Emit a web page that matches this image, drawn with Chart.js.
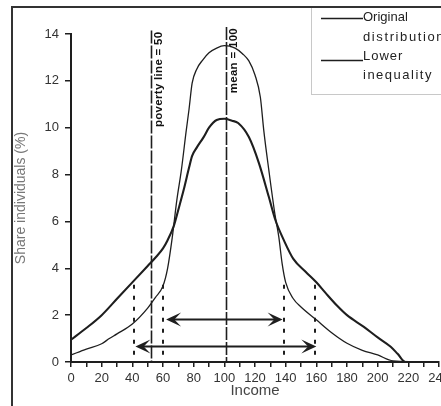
<!DOCTYPE html>
<html>
<head>
<meta charset="utf-8">
<script src="https://cdn.jsdelivr.net/npm/chart.js@4.4.0/dist/chart.umd.min.js"></script>
<style>
  body { margin: 0; background: #fff; }
  #wrap { width: 441px; height: 406px; overflow: hidden; position: relative; }
</style>
</head>
<body>
<div id="wrap"><canvas id="incomeChart" width="460" height="406"></canvas></div>
<script>
// values
const incomeOriginal = [0, 10, 20, 25, 30, 40, 50, 55, 60, 63, 66, 69, 72, 75, 77, 79, 82, 86, 90, 95, 100, 107, 112, 116, 120, 123.5, 125.7, 129, 133, 135.5, 137.7, 140, 145, 150, 160, 170, 180, 190, 200, 210, 240];
const shareOriginal = [0.3, 0.55, 0.78, 1.0, 1.2, 1.62, 2.3, 2.75, 3.25, 4.0, 5.3, 6.9, 8.2, 9.8, 10.8, 11.9, 12.5, 12.9, 13.2, 13.4, 13.5, 13.4, 13.15, 12.85, 12.25, 11.3, 9.9, 8.2, 6.3, 5.35, 4.2, 3.4, 2.7, 2.35, 1.8, 1.25, 0.8, 0.5, 0.3, 0.05, 0];

const incomeLower = [0, 10, 20, 30, 40, 50, 55, 60, 63, 67, 70, 73.5, 77, 79, 82, 86.5, 90, 95, 100, 105, 109, 116, 122.5, 129, 133.3, 138.8, 145, 153, 160, 166, 173.6, 180, 191, 200, 208.5, 213, 218, 240];
const shareLower = [0.95, 1.45, 2.0, 2.7, 3.4, 4.1, 4.45, 4.85, 5.2, 5.8, 6.5, 7.35, 8.3, 8.8, 9.15, 9.6, 10.0, 10.33, 10.38, 10.3, 10.2, 9.6, 8.5, 7.05, 6.06, 5.2, 4.4, 3.85, 3.4, 2.95, 2.4, 2.0, 1.5, 1.05, 0.65, 0.35, 0, 0];

const seriesNames = [['Original', 'distribution'], ['Lower', 'inequality']];

const refLineX = [52, 101];
const refLineTop = [14.15, 14.3];
const refLineLabels = ['poverty line = 50', 'mean = 100'];

const dottedX = [41, 60, 139, 159];
const dottedTop = 3.3;

const arrowFrom = [62, 42];
const arrowTo = [138, 160];
const arrowY = [1.83, 0.68];

const FONT = "'Liberation Sans', Arial, sans-serif";
const INK = '#1e1e1e';

function toPoints(xs, ys) {
  return xs.map((x, i) => ({ x: x, y: ys[i] }));
}

function arrowHead(ctx, tipX, y, dir) {
  // dir = 1 points right, -1 points left
  const len = 15;
  const half = 7;
  ctx.beginPath();
  ctx.moveTo(tipX, y);
  ctx.lineTo(tipX - dir * len, y - half);
  ctx.lineTo(tipX - dir * len * 0.55, y);
  ctx.lineTo(tipX - dir * len, y + half);
  ctx.closePath();
  ctx.fill();
}

const decorations = {
  id: 'decorations',
  afterDraw(chart) {
    const { ctx } = chart;
    const xs = chart.scales.x;
    const ys = chart.scales.y;
    ctx.save();

    // reference lines (poverty line, mean)
    ctx.strokeStyle = INK;
    ctx.lineWidth = 1.6;
    ctx.setLineDash([13, 2]);
    refLineX.forEach((v, i) => {
      const px = Math.round(xs.getPixelForValue(v)) + 0.5;
      ctx.beginPath();
      ctx.moveTo(px, ys.getPixelForValue(refLineTop[i]));
      ctx.lineTo(px, ys.getPixelForValue(0));
      ctx.stroke();
    });

    // rotated labels next to the reference lines
    ctx.setLineDash([]);
    ctx.fillStyle = '#111';
    ctx.font = 'bold 11.5px ' + FONT;
    ctx.letterSpacing = '0.3px';
    ctx.textAlign = 'right';
    ctx.textBaseline = 'middle';
    refLineLabels.forEach((txt, i) => {
      const px = xs.getPixelForValue(refLineX[i]) + 8;
      const py = ys.getPixelForValue(refLineTop[i]) + 1;
      ctx.save();
      ctx.translate(px, py);
      ctx.rotate(-Math.PI / 2);
      ctx.fillText(txt, 0, 0);
      ctx.restore();
    });
    ctx.letterSpacing = '0px';

    // dotted verticals
    ctx.lineWidth = 2;
    ctx.setLineDash([4, 7]);
    dottedX.forEach((v) => {
      const px = Math.round(xs.getPixelForValue(v));
      ctx.beginPath();
      ctx.moveTo(px, ys.getPixelForValue(dottedTop));
      ctx.lineTo(px, ys.getPixelForValue(0));
      ctx.stroke();
    });

    // double arrows
    ctx.setLineDash([]);
    ctx.lineWidth = 1.8;
    ctx.fillStyle = INK;
    arrowFrom.forEach((a, i) => {
      const x1 = xs.getPixelForValue(a);
      const x2 = xs.getPixelForValue(arrowTo[i]);
      const py = Math.round(ys.getPixelForValue(arrowY[i])) + 0.5;
      ctx.beginPath();
      ctx.moveTo(x1 + 6, py);
      ctx.lineTo(x2 - 6, py);
      ctx.stroke();
      arrowHead(ctx, x1, py, -1);
      arrowHead(ctx, x2, py, 1);
    });

    // legend box
    ctx.strokeStyle = '#c8c8c8';
    ctx.lineWidth = 1;
    ctx.fillStyle = '#fff';
    ctx.fillRect(311, 7, 160, 87);
    ctx.strokeRect(311.5, 7.5, 160, 87);

    ctx.strokeStyle = INK;
    ctx.lineWidth = 1.6;
    [18, 60].forEach((ly) => {
      ctx.beginPath();
      ctx.moveTo(321, ly + 0.5);
      ctx.lineTo(363, ly + 0.5);
      ctx.stroke();
    });
    ctx.fillStyle = '#222';
    ctx.font = '13px ' + FONT;
    ctx.textAlign = 'left';
    ctx.textBaseline = 'middle';
    const textY = [[17, 37], [56, 75]];
    const spacing = [[0, 1.6], [1, 1.5]];
    seriesNames.forEach((lines, i) => {
      lines.forEach((t, j) => {
        ctx.letterSpacing = spacing[i][j] + 'px';
        ctx.fillText(t, 363, textY[i][j]);
      });
    });
    ctx.letterSpacing = '0px';

    // outer frame (top and left edges, the rest is cut off)
    ctx.strokeStyle = '#333';
    ctx.lineWidth = 2;
    ctx.beginPath();
    ctx.moveTo(12, 406);
    ctx.lineTo(12, 7);
    ctx.lineTo(460, 7);
    ctx.stroke();

    ctx.restore();
  },
};

const chart = new Chart(document.getElementById('incomeChart'), {
  type: 'scatter',
  data: {
    datasets: [
      {
        label: 'Original distribution',
        data: toPoints(incomeOriginal, shareOriginal),
        showLine: true,
        borderColor: INK,
        borderWidth: 1.3,
        pointRadius: 0,
        cubicInterpolationMode: 'monotone',
      },
      {
        label: 'Lower inequality',
        data: toPoints(incomeLower, shareLower),
        showLine: true,
        borderColor: INK,
        borderWidth: 2.1,
        pointRadius: 0,
        cubicInterpolationMode: 'monotone',
      },
    ],
  },
  options: {
    responsive: false,
    animation: false,
    layout: { padding: { top: 34, right: 21, bottom: 0, left: 0 } },
    plugins: {
      legend: { display: false },
      tooltip: { enabled: false },
    },
    scales: {
      x: {
        type: 'linear',
        min: 0,
        max: 240,
        afterFit: (scale) => { scale.height = 44; },
        border: { display: true, color: INK, width: 2 },
        grid: { drawOnChartArea: false, drawTicks: true, tickLength: 5, color: INK, lineWidth: 1.5 },
        ticks: {
          stepSize: 10,
          autoSkip: false,
          maxRotation: 0,
          padding: 4,
          color: '#333',
          font: { family: FONT, size: 13 },
          callback: (v) => (v % 20 === 0 ? v : ''),
        },
        title: {
          display: true,
          text: 'Income',
          color: '#444',
          font: { family: FONT, size: 15 },
          padding: { top: 0, bottom: 6 },
        },
      },
      y: {
        min: 0,
        max: 14,
        afterFit: (scale) => { scale.width = 71; },
        border: { display: true, color: INK, width: 2 },
        grid: { drawOnChartArea: false, drawTicks: true, tickLength: 6, color: INK, lineWidth: 1.5 },
        ticks: {
          stepSize: 2,
          padding: 6,
          color: '#333',
          font: { family: FONT, size: 13 },
        },
        title: {
          display: true,
          text: 'Share individuals (%)',
          color: '#777',
          font: { family: FONT, size: 14 },
          padding: { top: 13, bottom: 0 },
        },
      },
    },
  },
  plugins: [decorations],
});
</script>
</body>
</html>
